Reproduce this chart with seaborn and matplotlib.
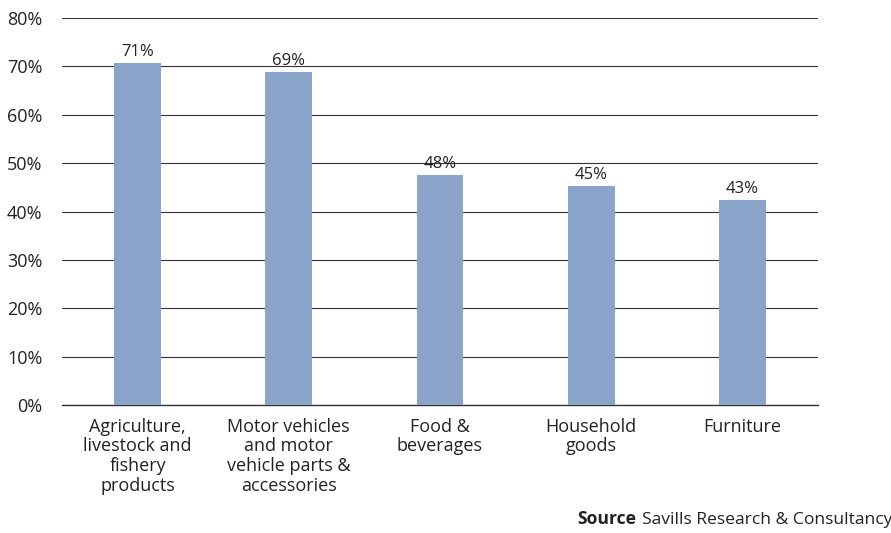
import pandas as pd
import numpy as np
import seaborn as sns
import matplotlib.pyplot as plt
from matplotlib.ticker import PercentFormatter

categories = [
    "Agriculture,\nlivestock and\nfishery\nproducts",
    "Motor vehicles\nand motor\nvehicle parts &\naccessories",
    "Food &\nbeverages",
    "Household\ngoods",
    "Furniture",
]
shares = [70.8, 68.9, 47.6, 45.3, 42.5]
labels = ["71%", "69%", "48%", "45%", "43%"]
y_ticks = [0, 10, 20, 30, 40, 50, 60, 70, 80]

df = pd.DataFrame({"category": categories, "share": shares})

sns.set_theme(style="white")
plt.rcParams["font.family"] = ["Open Sans", "DejaVu Sans"]

fig = plt.figure(figsize=(8.91, 5.33), dpi=100)
ax = fig.add_axes([0.0696, 0.240, 0.918 - 0.0696, 0.726])

sns.barplot(data=df, x="category", y="share", color="#8aa5c9",
            saturation=1, width=0.31, linewidth=0, ax=ax, zorder=3)

for i, (v, lab) in enumerate(zip(shares, labels)):
    ax.text(i, v + 0.6, lab, ha="center", va="bottom", fontsize=12, color="#222222")

ax.set_ylim(0, 80)
ax.set_xlim(-0.5, 4.5)
ax.set_yticks(y_ticks)
ax.yaxis.set_major_formatter(PercentFormatter(decimals=0))
ax.grid(axis="y", color="#333333", linewidth=0.8, zorder=0)
ax.set_axisbelow(True)
for s in ["top", "right", "left"]:
    ax.spines[s].set_visible(False)
ax.spines["bottom"].set_color("#333333")
ax.spines["bottom"].set_linewidth(1.0)
ax.tick_params(axis="both", length=0, labelsize=13, colors="#222222")
ax.tick_params(axis="y", pad=14)
ax.tick_params(axis="x", pad=9)
for t in ax.get_xticklabels():
    t.set_linespacing(1.13)
ax.set_xlabel("")
ax.set_ylabel("")

src = fig.text(0.648, 0.01, "Source", fontsize=12.6, fontweight="bold",
               color="#222222", ha="left", va="bottom")
ax.annotate("Savills Research & Consultancy", xy=(1, 0), xycoords=src,
            xytext=(4, 0), textcoords="offset points", fontsize=12.6,
            color="#222222", ha="left", va="bottom", annotation_clip=False)

fig.savefig("out.png", dpi=100)
